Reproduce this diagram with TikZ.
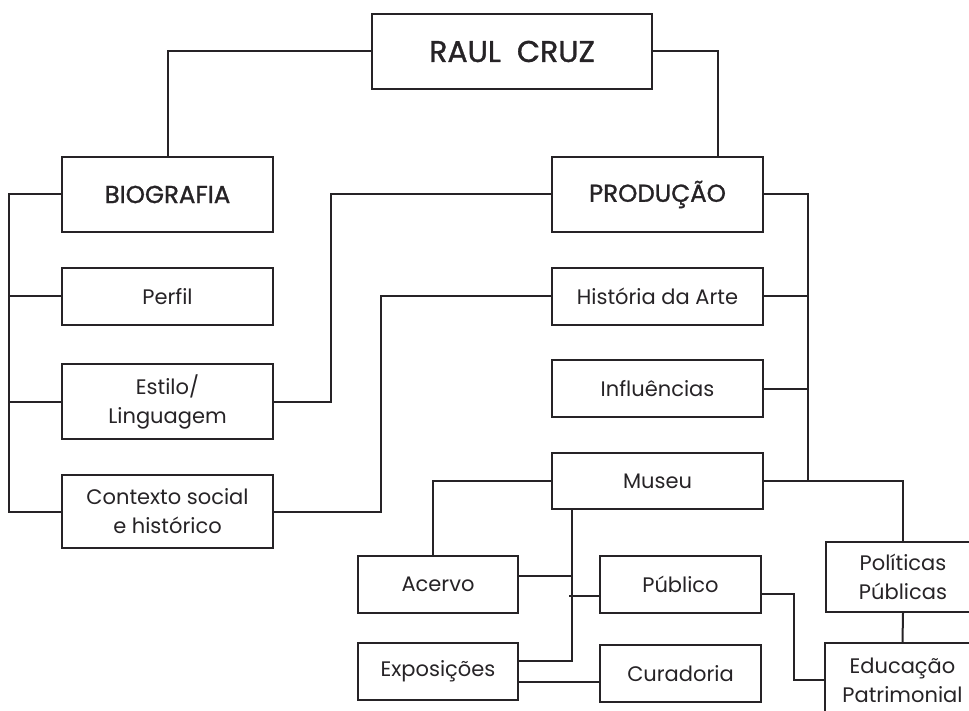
\documentclass[tikz,border=0pt]{standalone}
\usepackage{fontspec}
\setmainfont{Poppins}
\newfontfamily\headfont[FakeBold=1.2]{Poppins}
\usetikzlibrary{calc}
\definecolor{ink}{HTML}{262326}
\tikzset{
  box/.style={draw=ink, line width=2pt, rectangle, inner sep=0pt, align=center,
    text=ink, font=\fontsize{21}{29}\selectfont},
  headbox/.style={box, font=\headfont\fontsize{24.5}{29}\selectfont},
  link/.style={draw=ink, line width=2pt}
}
\begin{document}
\begin{tikzpicture}[x=1pt,y=-1pt]
\useasboundingbox (0,0) rectangle (969,711);
\clip (0,0) rectangle (969,711);
% nodes
\node[box, minimum width=280, minimum height=75, font=\headfont\fontsize{30}{34}\selectfont] (raul) at (512,51.5) {RAUL\ \ CRUZ};
\node[headbox, minimum width=211, minimum height=75] (bio) at (167.5,194.5) {BIOGRAFIA};
\node[box, minimum width=211, minimum height=57] (perfil) at (167.5,296.5) {Perfil};
\node[box, minimum width=211, minimum height=75] (estilo) at (167.5,401.5) {Estilo/\\Linguagem};
\node[box, minimum width=211, minimum height=73] (contexto) at (167.5,511.5) {Contexto social\\e histórico};
\node[headbox, minimum width=211, minimum height=75] (prod) at (657.5,194.5) {PRODUÇÃO};
\node[box, minimum width=211, minimum height=57] (hist) at (657.5,296.5) {História da Arte};
\node[box, minimum width=211, minimum height=57] (infl) at (657.5,388.5) {Influências};
\node[box, minimum width=211, minimum height=56] (museu) at (657.5,481) {Museu};
\node[box, minimum width=160, minimum height=57] (acervo) at (438,584.5) {Acervo};
\node[box, minimum width=160, minimum height=57] (expo) at (438,671.5) {Exposições};
\node[box, minimum width=161, minimum height=57] (publico) at (680.5,584.5) {Público};
\node[box, minimum width=161, minimum height=57] (curad) at (680.5,673.5) {Curadoria};
\node[box, minimum width=154, minimum height=70] (polit) at (903,577) {Políticas\\Públicas};
\node[box, minimum width=155, minimum height=74] (educ) at (902.5,680) {Educação\\Patrimonial};
% connectors
\draw[link] (raul.west) -| (bio.north);
\draw[link] (raul.east) -| ([xshift=60.5pt]prod.north);
\draw[link] (bio.west) -- ++(-52,0) |- (contexto.west);
\draw[link] (perfil.west) -- ++(-52,0);
\draw[link] (estilo.west) -- ++(-52,0);
\draw[link] (estilo.east) -- ++(57,0) |- (prod.west);
\draw[link] (contexto.east) -- ++(107,0) |- (hist.west);
\draw[link] (prod.east) -- ++(44,0) |- (museu.east);
\draw[link] (hist.east) -- ++(44,0);
\draw[link] (infl.east) -- ++(44,0);
\draw[link] (museu.east) -| (polit.north);
\draw[link] (museu.west) -| ([xshift=-5pt]acervo.north);
\draw[link] ([xshift=-85.5pt]museu.south) |- ([yshift=10.5pt]expo.east);
\draw[link] ([yshift=8.5pt]acervo.east) -- ++(54,0);
\draw[link] ([yshift=-11.5pt]publico.west) -- ++(-30,0);
\draw[link] ([yshift=-10.5pt]expo.east) -- ([yshift=-8.5pt]curad.west);
\draw[link] ([yshift=-9.5pt]publico.east) -- ++(32,0) |- (educ.west);
\draw[link] (polit.south) -- (educ.north);
\end{tikzpicture}
\end{document}
